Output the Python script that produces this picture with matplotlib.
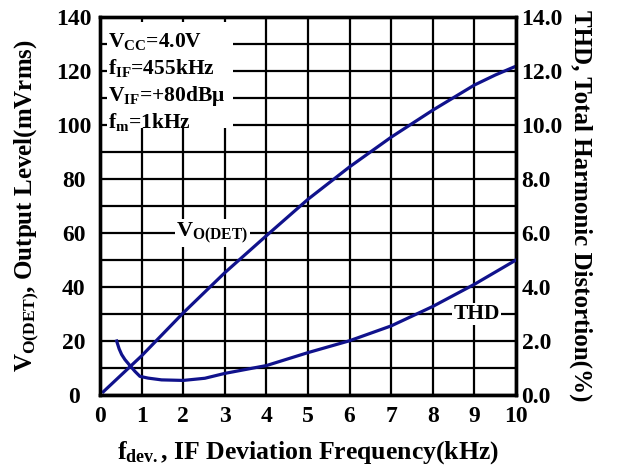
import matplotlib
matplotlib.use('Agg')
import matplotlib.pyplot as plt
from matplotlib.patches import Rectangle

# fonts: Times-like bold everywhere, also inside mathtext
plt.rcParams['font.family'] = 'Liberation Serif'
plt.rcParams['font.weight'] = 'bold'
plt.rcParams['axes.labelweight'] = 'bold'
plt.rcParams['mathtext.fontset'] = 'custom'
plt.rcParams['mathtext.rm'] = 'Liberation Serif:bold'
plt.rcParams['mathtext.it'] = 'Liberation Serif:bold'
plt.rcParams['mathtext.bf'] = 'Liberation Serif:bold'

# output level V_O(DET) (mVrms) vs deviation frequency (kHz)
vo_f = [0.08, 1, 2, 3, 4, 5, 6, 7, 8, 9, 9.5, 10]
vo = [1.2, 14.5, 30.4, 45.3, 59, 72.5, 84.5, 95.5, 105.5, 114.8, 118.5, 121.8]

# THD (%) vs deviation frequency (kHz)
thd_f = [0.4, 0.46, 0.52, 0.6, 0.72, 0.84, 0.96, 1.16, 1.48, 2.0, 2.52, 3.0, 3.48, 4.0, 5.0, 6.0, 7.0, 8.0, 9.0, 10.0]
thd = [2.0, 1.71, 1.5, 1.31, 1.09, 0.875, 0.69, 0.625, 0.56, 0.54, 0.62, 0.8, 0.94, 1.09, 1.57, 2.01, 2.56, 3.28, 4.1, 5.0]

x_ticks = list(range(0, 11))
left_ticks = [0, 20, 40, 60, 80, 100, 120, 140]
right_ticks = [0, 2, 4, 6, 8, 10, 12, 14]
conditions = [r'$V_{CC}$=4.0V', r'$f_{IF}$=455kHz', r'$V_{IF}$=+80dB$\mu$', r'$f_{m}$=1kHz']

line_color = '#10128c'

fig = plt.figure(figsize=(6.17, 4.70), dpi=100)
ax = fig.add_axes([100/617, 1 - 395/470, 416/617, 378/470])
ax2 = ax.twinx()

ax.set_xlim(0, 10)
ax.set_ylim(0, 140)
ax2.set_ylim(0, 14)

ax.set_xticks(x_ticks)
ax.set_yticks(left_ticks)
ax.set_yticks([10, 30, 50, 70, 90, 110, 130], minor=True)
ax.grid(True, which='both', color='black', lw=1.6)
ax.set_axisbelow(True)

ax.tick_params(which='both', length=0, labelsize=17)
ax.tick_params(axis='x', pad=8)
ax.tick_params(axis='y', pad=19)
for lab in ax.get_yticklabels():
    lab.set_ha('center')

ax2.set_yticks(right_ticks)
ax2.set_yticklabels(['%.1f' % t for t in right_ticks])
ax2.tick_params(length=0, labelsize=17, pad=4)

for a in (ax, ax2):
    for s in a.spines.values():
        s.set_linewidth(2.4)

ax.plot(vo_f, vo, color=line_color, lw=2.3, zorder=5)
ax2.plot(thd_f, thd, color=line_color, lw=2.3, zorder=5)

# white area behind the measuring conditions
ax.add_patch(Rectangle((0.017, 0.706), 0.303, 0.28, transform=ax.transAxes,
                       facecolor='white', edgecolor='none', zorder=3))
for i, txt in enumerate(conditions):
    ax.text(0.2, 129 - i * 10, txt, fontsize=15.5, ha='left', va='baseline', zorder=6)

ax.text(2.7, 60, r'$V_{O(DET)}$', fontsize=16, ha='center', va='center', zorder=6,
        bbox=dict(facecolor='white', edgecolor='none', pad=1))
ax.text(9.05, 30, 'THD', fontsize=15.5, ha='center', va='center', zorder=6,
        bbox=dict(facecolor='white', edgecolor='none', pad=1))

ax.set_xlabel(r'$f_{dev.}$, IF Deviation Frequency(kHz)', fontsize=18.5, labelpad=9)
ax.set_ylabel(r'$V_{O(DET)}$, Output Level(mVrms)', fontsize=18, labelpad=11)
ax2.set_ylabel('THD, Total Harmonic Distortion(%)', fontsize=18, rotation=270, labelpad=21)

fig.savefig('out.png', dpi=100)
